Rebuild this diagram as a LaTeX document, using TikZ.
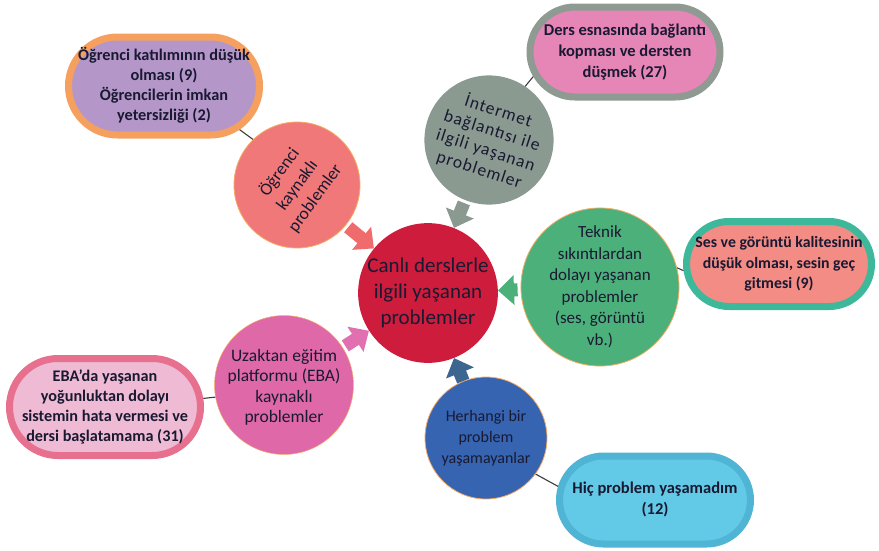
\documentclass[tikz,border=0pt]{standalone}
\usepackage{fontspec}
\setmainfont{Carlito}
\newfontfamily\spacedfont[LetterSpace=6]{Carlito}
\usetikzlibrary{arrows.meta,shapes.misc}
\newcommand{\boxlines}[1]{\makebox[40pt][c]{\begin{tabular}{@{}c@{}}#1\end{tabular}}}
\definecolor{txt}{RGB}{25,25,50}
\definecolor{crimson}{RGB}{205,28,60}
\definecolor{salmonc}{RGB}{240,120,120}
\definecolor{grayc}{RGB}{138,154,145}
\definecolor{greenc}{RGB}{76,176,122}
\definecolor{pinkc}{RGB}{222,104,168}
\definecolor{bluec}{RGB}{54,100,176}
\definecolor{orangeb}{RGB}{246,172,100}
\definecolor{purplefill}{RGB}{180,151,200}
\definecolor{purpleborder}{RGB}{246,160,96}
\definecolor{pinkfill}{RGB}{230,134,182}
\definecolor{pinkborder}{RGB}{142,154,146}
\definecolor{sesfill}{RGB}{242,140,132}
\definecolor{sesborder}{RGB}{61,184,154}
\definecolor{ebafill}{RGB}{238,186,212}
\definecolor{ebaborder}{RGB}{232,112,143}
\definecolor{cyanfill}{RGB}{98,202,230}
\definecolor{cyanborder}{RGB}{80,180,212}
\definecolor{linkgray}{RGB}{60,60,60}
\definecolor{arrsalmon}{RGB}{240,108,108}
\definecolor{arrgray}{RGB}{138,154,145}
\definecolor{arrgreen}{RGB}{76,176,122}
\definecolor{arrpink}{RGB}{224,112,176}
\definecolor{arrblue}{RGB}{60,102,144}
\tikzset{
  circ/.style={circle, inner sep=0pt, align=center, text=txt, font=\fontsize{16.5}{21}\selectfont},
  box/.style={rounded rectangle, line width=7pt, inner sep=0pt, text=txt},
  blockarrow/.style={line width=13pt, -{Triangle[length=16pt,width=29pt]}, shorten <=3pt},
  link/.style={draw=linkgray, line width=1.1pt}
}
\begin{document}
\begin{tikzpicture}[x=1pt,y=-1pt]
\useasboundingbox (0,0) rectangle (879,550);
% central circle
\node[circ, fill=crimson, minimum size=138pt, font=\fontsize{21}{26}\selectfont] (main) at (428,293) {Canlı derslerle\\ilgili yaşanan\\problemler};
% satellites
\node[circ, fill=salmonc, draw=orangeb, line width=0.8pt, minimum size=126pt, rotate=54, font=\fontsize{17.5}{22}\selectfont] (ogr) at (297,185) {Öğrenci\\kaynaklı\\problemler};
\node[circ, fill=grayc, minimum size=124pt, rotate=-18, font=\spacedfont\fontsize{17.5}{20.5}\selectfont] (inet) at (489,140) {İntermet\\bağlantısı ile\\ilgili yaşanan\\problemler};
\node[circ, fill=greenc, draw=orangeb, line width=0.8pt, minimum size=132pt, font=\fontsize{17}{21.5}\selectfont] (tek) at (600,287) {Teknik\\sıkıntılardan\\dolayı yaşanan\\problemler\\(ses, görüntü\\vb.)};
\node[circ, fill=pinkc, draw=orangeb, line width=0.5pt, minimum size=126pt, font=\fontsize{17.5}{20.5}\selectfont] (uz) at (284,385) {\\[-4pt]Uzaktan eğitim\\platformu (EBA)\\kaynaklı\\problemler};
\node[circ, fill=bluec, draw=orangeb, line width=0.8pt, minimum size=122pt, font=\fontsize{16}{21}\selectfont] (her) at (486,438) {Herhangi bir\\problem\\yaşamayanlar};
% boxes
\node[box, fill=purplefill, draw=purpleborder, minimum width=191pt, minimum height=98pt, font=\bfseries\fontsize{16.3}{20}\selectfont] (b1) at (164,86) {\boxlines{Öğrenci katılımının düşük\\olması (9)\\Öğrencilerin imkan\\yetersizliği (2)}};
\node[box, fill=pinkfill, draw=pinkborder, minimum width=190pt, minimum height=90pt, font=\bfseries\fontsize{16.5}{21}\selectfont] (b2) at (625,52) {\boxlines{Ders esnasında bağlantı\\kopması ve dersten\\düşmek (27)}};
\node[box, fill=sesfill, draw=sesborder, minimum width=185pt, minimum height=85pt, font=\bfseries\fontsize{15.8}{20.5}\selectfont] (b3) at (779,264) {\boxlines{Ses ve görüntü kalitesinin\\düşük olması, sesin geç\\gitmesi (9)}};
\node[box, fill=ebafill, draw=ebaborder, minimum width=191pt, minimum height=97pt, font=\bfseries\fontsize{16.2}{20}\selectfont] (b4) at (105,407) {\boxlines{EBA'da yaşanan\\yoğunluktan dolayı\\sistemin hata vermesi ve\\dersi başlatamama (31)}};
\node[box, fill=cyanfill, draw=cyanborder, minimum width=191pt, minimum height=88pt, font=\bfseries\fontsize{16.5}{21}\selectfont] (b5) at (655,500) {\boxlines{Hiç problem yaşamadım\\(12)}};
% links
\draw[link] (b1.330) -- (ogr.80);
\draw[link] (b2.195) -- (inet.74);
\draw[link] (tek.14) -- (b3.184);
\draw[link] (b4.5) -- (uz.190);
\draw[link] (her.324) -- (b5.172);
% block arrows
\draw[blockarrow, draw=arrsalmon, fill=arrsalmon] (ogr) -- (main);
\draw[blockarrow, draw=arrgray, fill=arrgray] (inet) -- (main);
\draw[blockarrow, draw=arrgreen, fill=arrgreen] (tek) -- (main);
\draw[blockarrow, draw=arrpink, fill=arrpink] (uz) -- (main);
\draw[blockarrow, draw=arrblue, fill=arrblue, shorten <=0pt] (her) -- (main);
\end{tikzpicture}
\end{document}
